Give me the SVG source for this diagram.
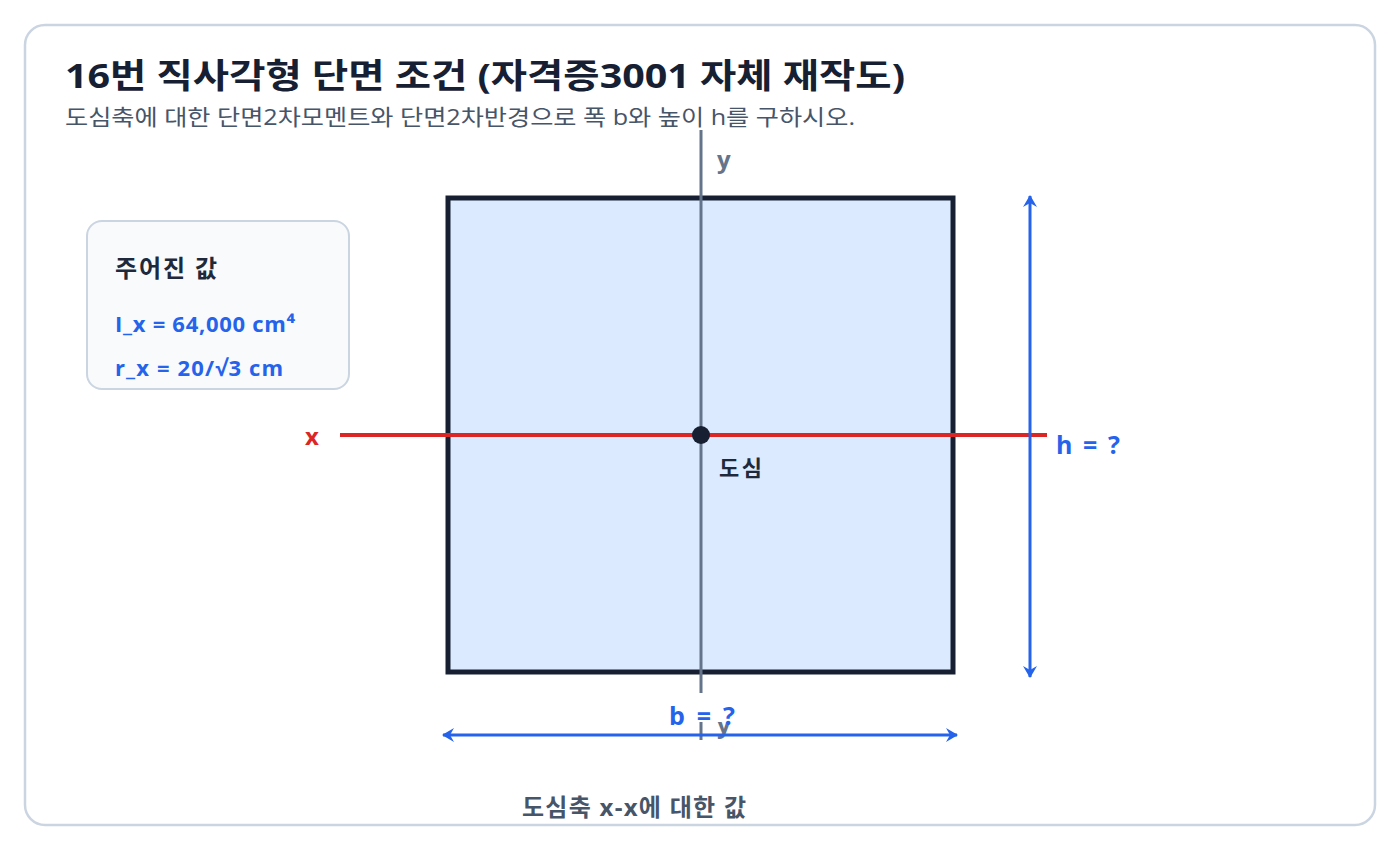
<svg xmlns="http://www.w3.org/2000/svg" width="1400" height="850" viewBox="0 0 1400 850">
<defs>
<style>
text{font-family:"Open Sans","Noto Sans CJK KR",sans-serif;}
.title{font-size:34px;font-weight:700;fill:#172033;}
.sub{font-size:22px;fill:#475569;}
.h{font-size:24px;font-weight:700;fill:#1e293b;}
.val{font-size:22px;font-weight:700;fill:#2563eb;}
.dim{font-size:25px;font-weight:700;fill:#2563eb;}
.axy{font-size:24px;font-weight:700;fill:#64748b;}
.axx{font-size:24px;font-weight:700;fill:#dc2626;}
.lbl{font-size:22px;font-weight:700;fill:#1e293b;}
.foot{font-size:24px;font-weight:700;fill:#475569;}
</style>
<marker id="arr" viewBox="0 0 12 14" refX="11" refY="7" markerWidth="12" markerHeight="14" markerUnits="userSpaceOnUse" orient="auto-start-reverse">
<path d="M0,0 L12,7 L0,14 L4,7 z" fill="#2563eb"/>
</marker>
</defs>
<rect x="25" y="25" width="1350" height="800" rx="20" fill="#ffffff" stroke="#cbd5e1" stroke-width="2.5"/>
<text class="title" x="65" y="88" textLength="840" lengthAdjust="spacingAndGlyphs">16번 직사각형 단면 조건 (자격증3001 자체 재작도)</text>
<text class="sub" x="65" y="125" textLength="790" lengthAdjust="spacingAndGlyphs">도심축에 대한 단면2차모멘트와 단면2차반경으로 폭 b와 높이 h를 구하시오.</text>
<g id="given">
<rect x="87" y="221" width="262" height="168" rx="15" fill="#f8fafc" stroke="#cbd5e1" stroke-width="2"/>
<text class="h" x="115" y="277" textLength="102">주어진 값</text>
<text class="val" x="115" y="332" textLength="180">I_x = 64,000 cm⁴</text>
<text class="val" x="115" y="376" textLength="168">r_x = 20/√3 cm</text>
</g>
<g id="section">
<rect x="448" y="198" width="505" height="474" fill="#dbeafe" stroke="#172033" stroke-width="5"/>
</g>
<g id="connectors">
<line x1="701" y1="130" x2="701" y2="740" stroke="#64748b" stroke-width="3"/>
<line x1="340" y1="435" x2="1047" y2="435" stroke="#dc2626" stroke-width="4"/>
</g>
<g id="axis-labels">
<text class="axy" x="717" y="168">y</text>
<text class="axy" x="717" y="733">y</text>
<text class="axx" x="305" y="445">x</text>
</g>
<g id="centroid">
<circle cx="701" cy="435" r="9" fill="#172033"/>
<text class="lbl" x="719" y="476" textLength="43">도심</text>
</g>
<g id="dim-h">
<line x1="1030" y1="196" x2="1030" y2="677" stroke="#2563eb" stroke-width="3" marker-start="url(#arr)" marker-end="url(#arr)"/>
<text class="dim" x="1056" y="454" textLength="64">h = ?</text>
</g>
<g id="dim-b">
<rect x="655" y="693" width="92" height="29" fill="#ffffff"/>
<text class="dim" x="669" y="725" textLength="66">b = ?</text>
<line x1="443" y1="735" x2="957" y2="735" stroke="#2563eb" stroke-width="3" marker-start="url(#arr)" marker-end="url(#arr)"/>
</g>
<text class="foot" x="522" y="816" textLength="224">도심축 x-x에 대한 값</text>
</svg>
